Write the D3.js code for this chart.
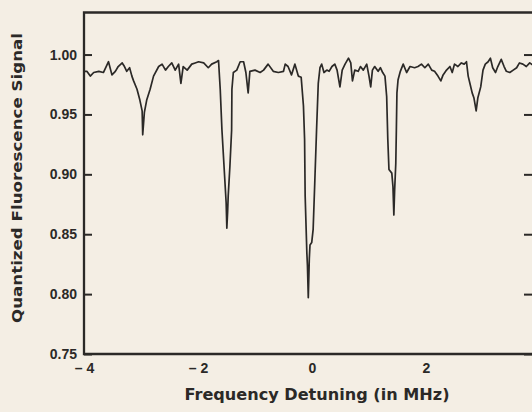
<!DOCTYPE html>
<html>
<head>
<meta charset="UTF-8">
<script src="https://cdn.jsdelivr.net/npm/d3@7"></script>
<style>
  html, body { margin: 0; padding: 0; background: #f4eee4; }
  svg { display: block; }
  text { font-family: "Liberation Sans", Arial, sans-serif; font-weight: bold; fill: #2e2c2a; }
  .title { font-family: "DejaVu Sans", sans-serif; }
</style>
</head>
<body>
<script>
// detuning (MHz) and normalised signal
const freq = [
  -3.99, -3.95, -3.89, -3.83, -3.74, -3.66, -3.57, -3.51, -3.45, -3.40,
  -3.33, -3.29, -3.25, -3.20, -3.16, -3.13, -3.07, -3.02, -2.98, -2.97,
  -2.94, -2.90, -2.84, -2.78, -2.69, -2.63, -2.57, -2.52, -2.46, -2.40,
  -2.34, -2.30, -2.26, -2.19, -2.11, -2.05, -1.99, -1.90, -1.82, -1.76,
  -1.67, -1.64, -1.61, -1.58, -1.506, -1.494, -1.48, -1.47, -1.44, -1.41,
  -1.405, -1.38, -1.32, -1.26, -1.20, -1.16, -1.12, -1.09, -1.00, -0.91,
  -0.85, -0.77, -0.68, -0.59, -0.50, -0.47, -0.42, -0.36, -0.30, -0.24,
  -0.19, -0.15, -0.13, -0.12, -0.09, -0.08, -0.065, -0.047, -0.035, -0.005,
  0.02, 0.05, 0.08, 0.11, 0.14, 0.17, 0.21, 0.26, 0.30, 0.35,
  0.40, 0.44, 0.49, 0.53, 0.58, 0.64, 0.68, 0.71, 0.75, 0.81,
  0.85, 0.90, 0.96, 1.00, 1.03, 1.06, 1.10, 1.16, 1.20, 1.24,
  1.28, 1.31, 1.33, 1.35, 1.40, 1.42, 1.436, 1.45, 1.47, 1.48,
  1.49, 1.51, 1.55, 1.60, 1.66, 1.72, 1.80, 1.86, 1.92, 1.98,
  2.04, 2.10, 2.15, 2.21, 2.26, 2.30, 2.36, 2.42, 2.46, 2.50,
  2.56, 2.62, 2.67, 2.71, 2.74, 2.77, 2.81, 2.84, 2.88, 2.91,
  2.96, 3.00, 3.04, 3.09, 3.13, 3.17, 3.22, 3.26, 3.32, 3.37,
  3.41, 3.47, 3.53, 3.59, 3.64, 3.70, 3.76, 3.82, 3.88, 3.94, 4.00
]
const signal = [
  0.986, 0.986, 0.982, 0.985, 0.986, 0.985, 0.994, 0.983, 0.986, 0.990,
  0.993, 0.990, 0.986, 0.989, 0.982, 0.978, 0.971, 0.962, 0.953, 0.933,
  0.952, 0.962, 0.971, 0.982, 0.990, 0.992, 0.987, 0.990, 0.993, 0.987,
  0.992, 0.976, 0.990, 0.987, 0.992, 0.993, 0.994, 0.993, 0.989, 0.992,
  0.994, 0.995, 0.971, 0.937, 0.876, 0.855, 0.869, 0.882, 0.907, 0.937,
  0.971, 0.985, 0.987, 0.994, 0.994, 0.985, 0.968, 0.986, 0.987, 0.985,
  0.987, 0.992, 0.986, 0.985, 0.986, 0.992, 0.990, 0.983, 0.992, 0.982,
  0.981, 0.957, 0.929, 0.882, 0.834, 0.824, 0.797, 0.830, 0.841, 0.843,
  0.854, 0.895, 0.937, 0.976, 0.989, 0.992, 0.985, 0.987, 0.986, 0.990,
  0.992, 0.987, 0.973, 0.987, 0.992, 0.997, 0.993, 0.978, 0.987, 0.986,
  0.990, 0.987, 0.992, 0.982, 0.973, 0.987, 0.990, 0.986, 0.989, 0.985,
  0.982, 0.965, 0.929, 0.904, 0.901, 0.890, 0.866, 0.887, 0.909, 0.937,
  0.968, 0.979, 0.986, 0.992, 0.985, 0.990, 0.989, 0.990, 0.992, 0.989,
  0.992, 0.987, 0.986, 0.982, 0.978, 0.983, 0.987, 0.990, 0.985, 0.992,
  0.990, 0.993, 0.992, 0.994, 0.982, 0.976, 0.968, 0.964, 0.953, 0.964,
  0.973, 0.987, 0.992, 0.994, 0.997, 0.989, 0.985, 0.990, 0.996, 0.990,
  0.986, 0.985, 0.987, 0.989, 0.993, 0.992, 0.990, 0.993, 0.991, 0.990, 0.992
]
const xTicks = [-4, -2, 0, 2]
const yTicks = [0.75, 0.80, 0.85, 0.90, 0.95, 1.00]

const W = 532, H = 412
const mLeft = 84, mRight = 540, mTop = 12.5, mBottom = 354

const svg = d3.select("body").append("svg")
  .attr("width", W)
  .attr("height", H)

const x = d3.scaleLinear().domain([-4, 4]).range([mLeft, mRight])
const y = d3.scaleLinear().domain([0.75, 1.0351]).range([mBottom, mTop])

const ink = "#2b2927"

// left axis, ticks pointing in
const gl = svg.append("g")
  .attr("transform", "translate(" + mLeft + ",0)")
  .call(d3.axisLeft(y).tickValues(yTicks).tickFormat(d3.format(".2f")).tickSize(-8).tickPadding(7))
gl.select(".domain").remove()
gl.selectAll("line").attr("stroke", ink).attr("stroke-width", 2)
gl.selectAll("text").attr("font-size", 14).style("fill", ink)

// right side ticks (frame edge is cut off by the picture)
const gr = svg.append("g")
  .attr("transform", "translate(" + mRight + ",0)")
  .call(d3.axisRight(y).tickValues(yTicks).tickFormat("").tickSize(-16))
gr.select(".domain").remove()
gr.selectAll("line").attr("stroke", ink).attr("stroke-width", 2)

// bottom axis labels only
const gb = svg.append("g")
  .attr("transform", "translate(0," + mBottom + ")")
  .call(d3.axisBottom(x).tickValues(xTicks).tickFormat(d => d < 0 ? "\u2013 " + Math.abs(d) : d).tickSize(0).tickPadding(9))
gb.select(".domain").remove()
gb.selectAll("text").attr("font-size", 14).style("fill", ink)

// frame
svg.append("path")
  .attr("d", "M" + W + "," + mTop + "H" + mLeft + "V" + mBottom + "H" + W)
  .attr("fill", "none")
  .attr("stroke", ink)
  .attr("stroke-width", 2.3)

// trace
const pts = freq.map((f, i) => [f, signal[i]])
svg.append("path")
  .datum(pts)
  .attr("fill", "none")
  .attr("stroke", ink)
  .attr("stroke-width", 1.7)
  .attr("stroke-linejoin", "round")
  .attr("d", d3.line().x(d => x(d[0])).y(d => y(d[1])))

// axis titles
svg.append("text")
  .attr("class", "title")
  .attr("x", 317)
  .attr("y", 400)
  .attr("text-anchor", "middle")
  .attr("font-size", 15)
  .attr("textLength", 265)
  .attr("lengthAdjust", "spacingAndGlyphs")
  .style("fill", ink)
  .text("Frequency Detuning (in MHz)")

svg.append("text")
  .attr("class", "title")
  .attr("transform", "translate(22,178) rotate(-90)")
  .attr("text-anchor", "middle")
  .attr("font-size", 14)
  .attr("textLength", 290)
  .attr("lengthAdjust", "spacingAndGlyphs")
  .style("fill", ink)
  .text("Quantized Fluorescence Signal")
</script>
</body>
</html>
